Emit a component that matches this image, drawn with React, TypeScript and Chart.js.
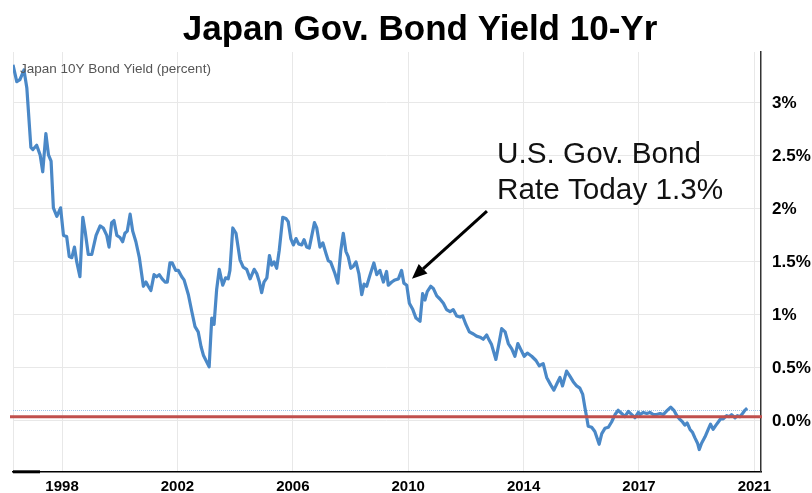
import React, { useEffect, useRef } from "react";
import { Chart, registerables } from "chart.js";

Chart.register(...registerables);

const chartTitle = "Japan Gov. Bond Yield 10-Yr";
const seriesName = "Japan 10Y Bond Yield (percent)";
const annotationLines = ["U.S. Gov. Bond", "Rate Today 1.3%"];

// decimal-year positions of each reading along the time axis
const dates = [
  1996.30, 1996.43, 1996.54, 1996.68, 1996.78, 1996.92, 1996.99, 1997.12, 1997.24, 1997.33,
  1997.44, 1997.53, 1997.62, 1997.70, 1997.82, 1997.95, 1998.05, 1998.16, 1998.25, 1998.34,
  1998.43, 1998.51, 1998.62, 1998.72, 1998.80, 1998.91, 1999.03, 1999.18, 1999.32, 1999.43,
  1999.55, 1999.63, 1999.72, 1999.80, 1999.90, 2000.01, 2000.10, 2000.18, 2000.26, 2000.36,
  2000.45, 2000.56, 2000.68, 2000.82, 2000.91, 2000.99, 2001.08, 2001.19, 2001.28, 2001.37,
  2001.47, 2001.57, 2001.65, 2001.74, 2001.82, 2001.94, 2002.03, 2002.15, 2002.23, 2002.38,
  2002.50, 2002.61, 2002.72, 2002.82, 2002.90, 2003.10, 2003.19, 2003.27, 2003.36, 2003.45,
  2003.57, 2003.67, 2003.76, 2003.82, 2003.92, 2004.03, 2004.17, 2004.28, 2004.40, 2004.52,
  2004.66, 2004.75, 2004.84, 2004.92, 2005.00, 2005.10, 2005.19, 2005.27, 2005.35, 2005.44,
  2005.53, 2005.65, 2005.76, 2005.84, 2005.93, 2006.02, 2006.11, 2006.20, 2006.31, 2006.39,
  2006.48, 2006.57, 2006.75, 2006.83, 2006.94, 2007.04, 2007.15, 2007.23, 2007.31, 2007.46,
  2007.56, 2007.66, 2007.75, 2007.84, 2007.92, 2008.01, 2008.10, 2008.19, 2008.29, 2008.39,
  2008.47, 2008.56, 2008.68, 2008.81, 2008.91, 2009.02, 2009.14, 2009.25, 2009.31, 2009.43,
  2009.54, 2009.66, 2009.77, 2009.85, 2009.95, 2010.04, 2010.16, 2010.27, 2010.41, 2010.50,
  2010.58, 2010.66, 2010.78, 2010.87, 2010.99, 2011.10, 2011.22, 2011.33, 2011.45, 2011.56,
  2011.68, 2011.80, 2011.89, 2012.00, 2012.12, 2012.26, 2012.37, 2012.49, 2012.60, 2012.72,
  2012.81, 2012.89, 2013.04, 2013.16, 2013.24, 2013.36, 2013.47, 2013.59, 2013.70, 2013.80,
  2013.91, 2014.02, 2014.13, 2014.28, 2014.43, 2014.54, 2014.68, 2014.80, 2014.94, 2015.05,
  2015.17, 2015.26, 2015.35, 2015.49, 2015.61, 2015.72, 2015.84, 2015.95, 2016.05, 2016.13,
  2016.19, 2016.24, 2016.36, 2016.47, 2016.62, 2016.71, 2016.82, 2016.94, 2017.05, 2017.17,
  2017.28, 2017.40, 2017.51, 2017.63, 2017.75, 2017.86, 2017.98, 2018.03, 2018.15, 2018.27,
  2018.38, 2018.50, 2018.61, 2018.73, 2018.84, 2018.98, 2019.10, 2019.21, 2019.31, 2019.40,
  2019.51, 2019.59, 2019.67, 2019.77, 2019.86, 2019.94, 2020.03, 2020.09, 2020.17, 2020.29,
  2020.40, 2020.48, 2020.57, 2020.67, 2020.75, 2020.83, 2020.92, 2021.04, 2021.13, 2021.21,
  2021.33, 2021.41, 2021.50, 2021.59, 2021.67, 2021.75,
];

// 10-year JGB yield, percent
const yields = [
  3.36, 3.20, 3.22, 3.31, 3.14, 2.58, 2.56, 2.60, 2.51, 2.35,
  2.71, 2.51, 2.45, 2.01, 1.93, 2.01, 1.75, 1.74, 1.55, 1.54,
  1.64, 1.50, 1.36, 1.92, 1.79, 1.57, 1.57, 1.75, 1.84, 1.82,
  1.75, 1.64, 1.87, 1.89, 1.75, 1.73, 1.69, 1.77, 1.79, 1.95,
  1.79, 1.69, 1.54, 1.27, 1.31, 1.27, 1.23, 1.38, 1.36, 1.38,
  1.34, 1.31, 1.31, 1.49, 1.49, 1.42, 1.42, 1.36, 1.33, 1.19,
  1.03, 0.89, 0.84, 0.70, 0.62, 0.51, 0.97, 0.91, 1.24, 1.43,
  1.28, 1.35, 1.34, 1.42, 1.82, 1.77, 1.52, 1.45, 1.43, 1.34,
  1.43, 1.39, 1.31, 1.21, 1.31, 1.35, 1.56, 1.47, 1.50, 1.44,
  1.61, 1.92, 1.91, 1.88, 1.72, 1.66, 1.72, 1.67, 1.66, 1.71,
  1.64, 1.63, 1.87, 1.82, 1.64, 1.68, 1.58, 1.51, 1.50, 1.39,
  1.30, 1.60, 1.77, 1.60, 1.55, 1.44, 1.46, 1.50, 1.39, 1.19,
  1.29, 1.27, 1.38, 1.49, 1.38, 1.42, 1.31, 1.41, 1.28, 1.31,
  1.33, 1.34, 1.42, 1.30, 1.28, 1.11, 1.05, 0.97, 0.94, 1.20,
  1.14, 1.22, 1.27, 1.25, 1.18, 1.15, 1.11, 1.05, 1.03, 1.05,
  0.99, 0.98, 0.99, 0.91, 0.84, 0.82, 0.80, 0.79, 0.77, 0.81,
  0.76, 0.72, 0.58, 0.75, 0.87, 0.84, 0.73, 0.68, 0.61, 0.73,
  0.67, 0.61, 0.64, 0.61, 0.57, 0.52, 0.54, 0.41, 0.34, 0.29,
  0.36, 0.41, 0.33, 0.47, 0.42, 0.37, 0.33, 0.31, 0.25, 0.12,
  0.03, -0.05, -0.06, -0.10, -0.22, -0.12, -0.07, -0.06, -0.01, 0.06,
  0.10, 0.07, 0.04, 0.09, 0.06, 0.03, 0.08, 0.06, 0.08, 0.07,
  0.08, 0.06, 0.06, 0.07, 0.06, 0.10, 0.13, 0.10, 0.05, 0.02,
  -0.01, -0.04, -0.02, -0.08, -0.11, -0.16, -0.21, -0.27, -0.21, -0.15,
  -0.08, -0.03, -0.08, -0.04, -0.01, 0.02, 0.02, 0.05, 0.04, 0.06,
  0.03, 0.05, 0.04, 0.07, 0.10, 0.12,
];

const xRange = [1996.3, 2022.23];
const xTickValues = [1998, 2002, 2006, 2010, 2014, 2018, 2022];
const xTickLabels = ["1998", "2002", "2006", "2010", "2014", "2017", "2021"];

const yRange = [-0.48, 3.48];
const yTickValues = [0, 0.5, 1, 1.5, 2, 2.5, 3];
const yTickLabels = ["0.0%", "0.5%", "1%", "1.5%", "2%", "2.5%", "3%"];

const redLineLevel = 0.04;
const lastValueLevel = 0.1;

// annotation anchors in data units
const arrowFrom = { x: 2012.73, y: 1.98 };
const arrowTo = { x: 2010.13, y: 1.34 };
const annotationAnchor = { x: 2013.08, y: 2.43 };

const FONT = 'Arial, "Liberation Sans", Helvetica, sans-serif';

const overlayPlugin = {
  id: "overlay",
  beforeDatasetsDraw(chart: any) {
    const { ctx, chartArea, scales } = chart;
    const y = Math.round(scales.y.getPixelForValue(lastValueLevel)) + 0.5;
    ctx.save();
    ctx.strokeStyle = "#9fc4e8";
    ctx.lineWidth = 1;
    ctx.setLineDash([1, 1]);
    ctx.beginPath();
    ctx.moveTo(chartArea.left, y);
    ctx.lineTo(chartArea.right, y);
    ctx.stroke();
    ctx.restore();
  },
  afterDatasetsDraw(chart: any) {
    const { ctx, chartArea, scales } = chart;
    const y = scales.y.getPixelForValue(redLineLevel);
    ctx.save();
    ctx.strokeStyle = "#c0504d";
    ctx.lineWidth = 3;
    ctx.beginPath();
    ctx.moveTo(chartArea.left - 3, y);
    ctx.lineTo(chartArea.right + 1, y);
    ctx.stroke();
    ctx.restore();
  },
  afterDraw(chart: any) {
    const { ctx, chartArea, scales } = chart;
    ctx.save();
    // title
    ctx.fillStyle = "#000";
    ctx.font = `bold 35px ${FONT}`;
    ctx.textAlign = "center";
    ctx.textBaseline = "alphabetic";
    ctx.fillText(chartTitle, 420, 40);

    // series name
    ctx.fillStyle = "#555";
    ctx.font = `13.5px ${FONT}`;
    ctx.textAlign = "left";
    ctx.fillText(seriesName, chartArea.left + 7, chartArea.top + 21);

    // bottom-left dark marker on axis
    ctx.strokeStyle = "#000";
    ctx.lineWidth = 3;
    ctx.beginPath();
    ctx.moveTo(chartArea.left, chartArea.bottom);
    ctx.lineTo(chartArea.left + 27, chartArea.bottom);
    ctx.stroke();

    // annotation text
    const ax = scales.x.getPixelForValue(annotationAnchor.x);
    const ay = scales.y.getPixelForValue(annotationAnchor.y);
    ctx.fillStyle = "#111";
    ctx.font = `29.7px ${FONT}`;
    annotationLines.forEach((line, i) => ctx.fillText(line, ax, ay + i * 36));

    // arrow
    const x1 = scales.x.getPixelForValue(arrowFrom.x);
    const y1 = scales.y.getPixelForValue(arrowFrom.y);
    const x2 = scales.x.getPixelForValue(arrowTo.x);
    const y2 = scales.y.getPixelForValue(arrowTo.y);
    const ang = Math.atan2(y2 - y1, x2 - x1);
    const headLen = 15;
    const headW = 6.5;
    const bx = x2 - headLen * Math.cos(ang);
    const by = y2 - headLen * Math.sin(ang);
    ctx.strokeStyle = "#000";
    ctx.lineWidth = 3;
    ctx.beginPath();
    ctx.moveTo(x1, y1);
    ctx.lineTo(bx, by);
    ctx.stroke();
    ctx.fillStyle = "#000";
    ctx.beginPath();
    ctx.moveTo(x2, y2);
    ctx.lineTo(bx + headW * Math.sin(ang), by - headW * Math.cos(ang));
    ctx.lineTo(bx - headW * Math.sin(ang), by + headW * Math.cos(ang));
    ctx.closePath();
    ctx.fill();
    ctx.restore();
  },
};

export default function App() {
  const canvasRef = useRef<HTMLCanvasElement>(null);

  useEffect(() => {
    const canvas = canvasRef.current;
    if (!canvas) return;
    const points = dates.map((d, i) => ({ x: d, y: yields[i] }));
    const chart = new Chart(canvas, {
      type: "line",
      data: {
        datasets: [
          {
            label: seriesName,
            data: points,
            borderColor: "#4a88c7",
            borderWidth: 3.2,
            pointRadius: 0,
            tension: 0,
            fill: false,
            borderJoinStyle: "round",
          },
        ],
      },
      options: {
        responsive: false,
        animation: false,
        devicePixelRatio: 1,
        layout: { padding: { left: 13, top: 52, right: 0, bottom: 0 } },
        plugins: {
          legend: { display: false },
          tooltip: { enabled: false },
          title: { display: false },
        },
        scales: {
          x: {
            type: "linear",
            min: xRange[0],
            max: xRange[1],
            afterBuildTicks: (scale: any) => {
              scale.ticks = [xRange[0], ...xTickValues].map((v) => ({ value: v }));
            },
            afterFit: (scale: any) => {
              scale.height = 21;
            },
            grid: { color: "#e8e8e8", lineWidth: 1, drawTicks: false },
            border: { display: true, color: "#000", width: 1.5 },
            ticks: {
              autoSkip: false,
              maxRotation: 0,
              padding: 6,
              color: "#000",
              font: { family: FONT, size: 15, weight: "bold" },
              callback: (value: any) => {
                const idx = xTickValues.indexOf(Number(value));
                return idx >= 0 ? xTickLabels[idx] : "";
              },
            },
          },
          y: {
            type: "linear",
            position: "right",
            min: yRange[0],
            max: yRange[1],
            afterBuildTicks: (scale: any) => {
              scale.ticks = yTickValues.map((v) => ({ value: v }));
            },
            afterFit: (scale: any) => {
              scale.width = 51;
            },
            grid: { color: "#e8e8e8", lineWidth: 1, drawTicks: false },
            border: { display: true, color: "#333", width: 1.5 },
            ticks: {
              autoSkip: false,
              padding: 11,
              color: "#000",
              font: { family: FONT, size: 17, weight: "bold" },
              callback: (value: any) => {
                const idx = yTickValues.indexOf(Number(value));
                return idx >= 0 ? yTickLabels[idx] : "";
              },
            },
          },
        },
      },
      plugins: [overlayPlugin],
    } as any);
    return () => chart.destroy();
  }, []);

  return (
    <div
      style={{
        position: "fixed",
        left: 0,
        top: 0,
        width: 812,
        height: 493,
        background: "#fff",
      }}
    >
      <canvas
        ref={canvasRef}
        width={812}
        height={493}
        style={{ display: "block", width: 812, height: 493 }}
      />
    </div>
  );
}
